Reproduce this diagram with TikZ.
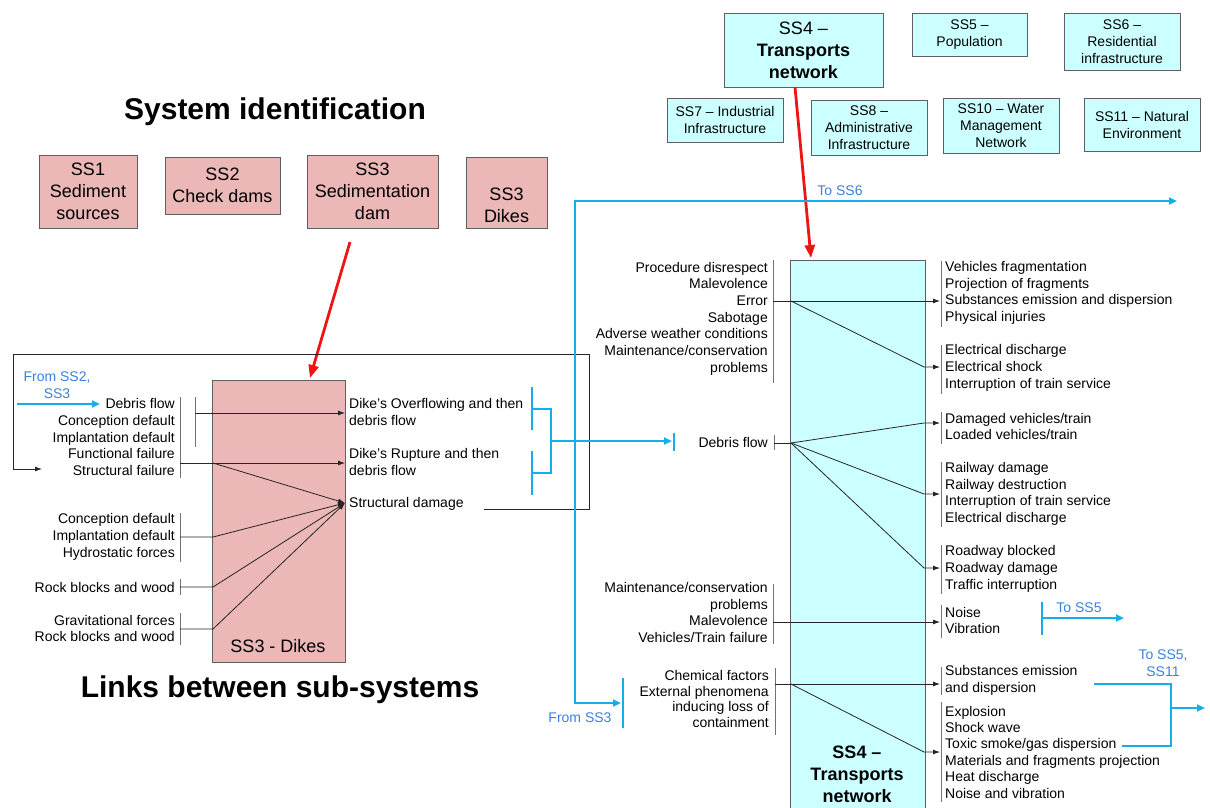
\documentclass[tikz,border=0pt]{standalone}
\usepackage{fontspec}
\setmainfont{Liberation Sans}
\usetikzlibrary{arrows.meta}
\definecolor{pinkfill}{RGB}{235,183,183}
\definecolor{cyanfill}{RGB}{204,255,255}
\definecolor{boxline}{RGB}{95,95,95}
\definecolor{bl}{RGB}{22,174,232}
\definecolor{bltext}{RGB}{58,130,215}
\definecolor{redline}{RGB}{238,20,20}
\definecolor{barc}{RGB}{115,115,115}
\begin{document}
\begin{tikzpicture}[x=1pt,y=-1pt,
 txt/.style={inner sep=0pt,font=\fontsize{14}{16.7}\selectfont},
 rtxt/.style={txt,align=right,anchor=east},
 ltxt/.style={txt,align=left,anchor=west},
 btxt/.style={txt,align=center,text=bltext},
 pinkbox/.style={draw=boxline,fill=pinkfill,line width=0.9pt,inner sep=0pt,align=center,font=\fontsize{18}{22}\selectfont},
 cyanbox/.style={draw=boxline,fill=cyanfill,line width=0.9pt,inner sep=0pt,align=center,font=\fontsize{14}{17}\selectfont},
 bigcyan/.style={cyanbox,font=\fontsize{18}{22}\selectfont},
 bar/.style={draw=barc,line width=0.9pt},
 conn/.style={draw=black!85,line width=0.8pt},
 arr/.style={conn,-{Latex[length=7pt,width=5pt]}},
 blu/.style={draw=bl,line width=2.2pt},
 bluarr/.style={blu,-{Triangle[length=8pt,width=7pt]}},
 redarr/.style={draw=redline,line width=2.8pt,-{Triangle[length=13pt,width=10pt]}},
 titlefont/.style={inner sep=0pt,font=\fontsize{30}{36}\selectfont\bfseries}
]
\useasboundingbox (0,0) rectangle (1210,807);

% ---------- titles ----------
\node[titlefont] (t1) at (275,112) {System identification};
\node[titlefont] (t2) at (280,690) {Links between sub-systems};

% ---------- system identification boxes ----------
\node[pinkbox,minimum width=98pt,minimum height=73pt] (ss1) at (88,191.5) {SS1\\Sediment\\sources};
\node[pinkbox,minimum width=115pt,minimum height=57pt] (ss2) at (222.5,185.5) {SS2\\Check dams};
\node[pinkbox,minimum width=131pt,minimum height=73pt] (ss3s) at (372.5,191.5) {SS3\\Sedimentation\\dam};
\node[pinkbox,minimum width=81pt,minimum height=71pt] (ss3d) at (506.5,192.5) {\strut\\SS3\\Dikes};

\node[bigcyan,minimum width=159pt,minimum height=74pt] (ss4t) at (803.5,50) {SS4 --\\\textbf{Transports}\\\textbf{network}};
\node[cyanbox,minimum width=115pt,minimum height=43pt] (ss5) at (969.5,34.5) {SS5 --\\Population};
\node[cyanbox,minimum width=116pt,minimum height=57pt] (ss6) at (1122,41.5) {SS6 --\\Residential\\infrastructure};
\node[cyanbox,minimum width=116pt,minimum height=44pt] (ss7) at (725,120) {SS7 -- Industrial\\Infrastructure};
\node[cyanbox,minimum width=116pt,minimum height=55pt] (ss8) at (869,127.5) {SS8 --\\Administrative\\Infrastructure};
\node[cyanbox,minimum width=116pt,minimum height=55pt] (ss10) at (1001,125.5) {SS10 -- Water\\Management\\Network};
\node[cyanbox,minimum width=116pt,minimum height=53pt] (ss11) at (1142,124.5) {SS11 -- Natural\\Environment};

% ---------- main boxes ----------
\node[pinkbox,minimum width=133pt,minimum height=282pt] (dikes) at (278.5,521) {};
\node[inner sep=0pt,font=\fontsize{18}{22}\selectfont] (dikeslbl) at (278,646) {SS3 - Dikes};
\node[bigcyan,minimum width=135pt,minimum height=560pt] (ss4b) at (857.5,540) {};
\node[inner sep=0pt,align=center,font=\fontsize{18}{22}\selectfont\bfseries] (ss4lbl) at (857,774.5) {SS4 --\\Transports\\network};

% ---------- red arrows ----------
\coordinate (r1s) at (350,242);
\coordinate (r1e) at (310,378);
\draw[redarr] (r1s) -- (r1e);
\coordinate (r2s) at (795,87);
\coordinate (r2e) at (811,258);
\draw[redarr] (r2s) -- (r2e);

% ---------- left texts ----------
\node[rtxt] (L1) at (175,437) {Debris flow\\Conception default\\Implantation default\\Functional failure\\Structural failure};
\node[rtxt] (L2) at (175,537) {Conception default\\Implantation default\\Hydrostatic forces};
\node[rtxt] (L3) at (175,587) {Rock blocks and wood};
\node[rtxt] (L4) at (175,628.5) {Gravitational forces\\Rock blocks and wood};

\draw[bar] (180,397) -- (180,478);
\draw[bar] (195,397) -- (195,447);
\draw[bar] (180,513) -- (180,562);
\draw[bar] (180,579) -- (180,595);
\draw[bar] (180,613) -- (180,645);

% ---------- right of dikes ----------
\node[ltxt] (R1) at (349,412) {Dike’s Overflowing and then\\debris flow};
\node[ltxt] (R2) at (349,462) {Dike’s Rupture and then\\debris flow};
\node[ltxt] (R3) at (349,504) {Structural damage};

\coordinate (sd) at (345,503);
\draw[arr] (195,413) -- (345,413);
\draw[arr] (180,463) -- (345,463);
\draw[arr] (213,463) -- (sd);
\draw[arr] (180,537) -- (213,537) -- (sd);
\draw[arr] (180,587) -- (213,587) -- (sd);
\draw[arr] (180,629) -- (213,629) -- (sd);

% feedback loop
\draw[arr] (484,509) -- (589,509) -- (589,354) -- (13,354) -- (13,469) -- (42,469);

% ---------- blue links ----------
\node[btxt] (from23) at (57,385.5) {From SS2,\\SS3};
\draw[bluarr] (17,404) -- (100,404);

\draw[blu] (532,387) -- (532,430);
\draw[blu] (532,451) -- (532,495);
\draw[blu] (532,409) -- (551,409) -- (551,473) -- (532,473);
\draw[bluarr] (551,441) -- (672,441);
\draw[blu] (674,433) -- (674,451);

\draw[blu,{Triangle[length=8pt,width=7pt]}-{Triangle[length=8pt,width=7pt]}] (1177,201) -- (575,201) -- (575,703) -- (621,703);
\draw[blu] (623,678) -- (623,728);
\node[btxt] (toss6) at (840,191) {To SS6};
\node[btxt] (from3) at (580,718) {From SS3};

\draw[blu] (1042,602) -- (1042,635);
\draw[bluarr] (1042,618) -- (1124,618);
\node[btxt] (toss5) at (1079,608) {To SS5};

\draw[blu] (1094,684) -- (1171,684) -- (1171,746) -- (1122,746);
\draw[bluarr] (1171,708) -- (1205,708);
\node[btxt] (toss511) at (1163,663.5) {To SS5,\\SS11};

% ---------- SS4 causes ----------
\node[rtxt] (C1) at (768,318.5) {Procedure disrespect\\Malevolence\\Error\\Sabotage\\Adverse weather conditions\\Maintenance/conservation\\problems};
\node[rtxt] (C2) at (768,442) {Debris flow};
\node[rtxt] (C3) at (768,612.5) {Maintenance/conservation\\problems\\Malevolence\\Vehicles/Train failure};
\node[rtxt,font=\fontsize{14}{15.6}\selectfont] (C4) at (769,699) {Chemical factors\\External phenomena\\inducing loss of\\containment};

\draw[bar] (773,260) -- (773,383);
\draw[bar] (774,435) -- (774,450);
\draw[bar] (773,584) -- (773,644);
\draw[bar] (775,668) -- (775,735);

% ---------- SS4 consequences ----------
\node[ltxt] (E1) at (945,293) {Vehicles fragmentation\\Projection of fragments\\Substances emission and dispersion\\Physical injuries};
\node[ltxt] (E2) at (945,368) {Electrical discharge\\Electrical shock\\Interruption of train service};
\node[ltxt] (E3) at (945,426.5) {Damaged vehicles/train\\Loaded vehicles/train};
\node[ltxt] (E4) at (945,494) {Railway damage\\Railway destruction\\Interruption of train service\\Electrical discharge};
\node[ltxt] (E5) at (945,569) {Roadway blocked\\Roadway damage\\Traffic interruption};
\node[ltxt] (E6) at (945,620.5) {Noise\\Vibration};
\node[ltxt] (E7) at (945,680.5) {Substances emission\\and dispersion};
\node[ltxt,font=\fontsize{14}{16.4}\selectfont] (E8) at (945,752) {Explosion\\Shock wave\\Toxic smoke/gas dispersion\\Materials and fragments projection\\Heat discharge\\Noise and vibration};

\draw[bar] (941,261) -- (941,327);
\draw[bar] (941,345) -- (941,394);
\draw[bar] (941,412) -- (941,444);
\draw[bar] (941,462) -- (941,527);
\draw[bar] (941,545) -- (941,594);
\draw[bar] (941,605) -- (941,638);
\draw[bar] (941,667) -- (941,695);
\draw[bar] (941,702) -- (941,802);

\coordinate (h1) at (791,301);
\coordinate (h2) at (791,443);
\coordinate (h3) at (791,684);
\draw[arr] (773,301) -- (940,301);
\draw[arr] (h1) -- (924,367) -- (940,367);
\draw[conn] (774,443) -- (h2);
\draw[arr] (h2) -- (924,423) -- (940,423);
\draw[arr] (h2) -- (924,494) -- (940,494);
\draw[arr] (h2) -- (924,568) -- (940,568);
\draw[arr] (773,622) -- (940,622);
\draw[arr] (775,684) -- (940,684);
\draw[arr] (h3) -- (924,752) -- (940,752);
\end{tikzpicture}
\end{document}
